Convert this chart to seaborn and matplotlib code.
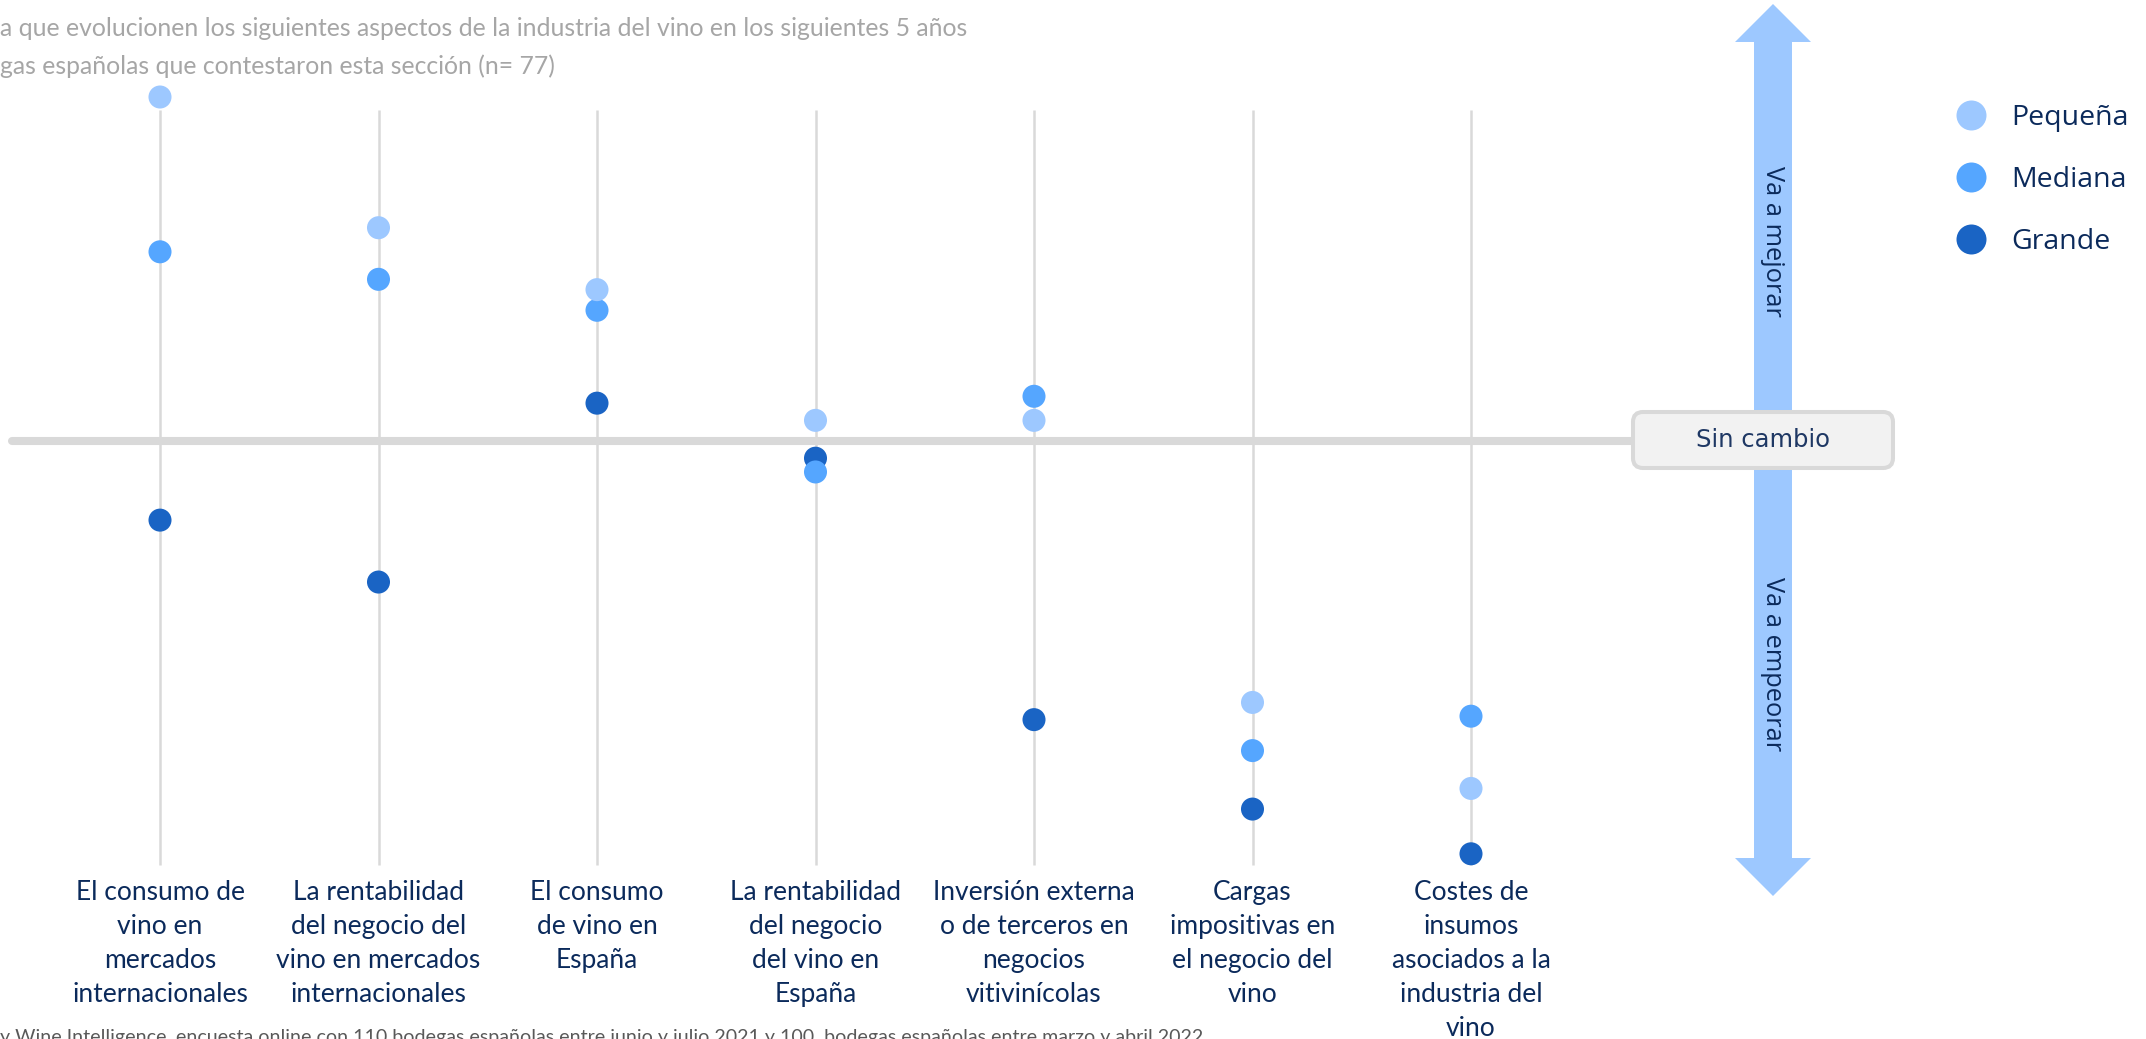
import numpy as np
import pandas as pd
import matplotlib
matplotlib.use("Agg")
import matplotlib.pyplot as plt
from matplotlib.lines import Line2D
from matplotlib.patches import FancyArrow, FancyBboxPatch
import seaborn as sns

sns.set_style("white")

# ------------------------------------------------------------
# datos (0 = "Sin cambio", + mejora, - empeora)
# ------------------------------------------------------------
categorias = [
    "El consumo de\nvino en\nmercados\ninternacionales",
    "La rentabilidad\ndel negocio del\nvino en mercados\ninternacionales",
    "El consumo\nde vino en\nEspaña",
    "La rentabilidad\ndel negocio\ndel vino en\nEspaña",
    "Inversión externa\no de terceros en\nnegocios\nvitivinícolas",
    "Cargas\nimpositivas en\nel negocio del\nvino",
    "Costes de\ninsumos\nasociados a la\nindustria del\nvino",
]
pequena = [1.00, 0.62, 0.44, 0.06, 0.06, -0.76, -1.01]
mediana = [0.55, 0.47, 0.38, -0.09, 0.13, -0.90, -0.80]
grande = [-0.23, -0.41, 0.11, -0.05, -0.81, -1.07, -1.20]

tamanos = ["Pequeña", "Mediana", "Grande"]
colores = {"Pequeña": "#9DC8FF", "Mediana": "#55A6FF", "Grande": "#1A64C4"}

titulo_1 = "a que evolucionen los siguientes aspectos de la industria del vino en los siguientes 5 años"
titulo_2 = "gas españolas que contestaron esta sección (n= 77)"
fuente = ("y Wine Intelligence, encuesta online con 110 bodegas españolas entre junio y julio 2021 "
          "y 100  bodegas españolas entre marzo y abril 2022")

# orden de dibujo: Grande debajo, Pequeña encima
df = pd.concat([
    pd.DataFrame({"aspecto": categorias, "valor": grande, "tamano": "Grande"}),
    pd.DataFrame({"aspecto": categorias, "valor": mediana, "tamano": "Mediana"}),
    pd.DataFrame({"aspecto": categorias, "valor": pequena, "tamano": "Pequeña"}),
], ignore_index=True)

W, H = 2146, 1039
NAVY = "#0B2A5B"
LINEA = "#D9D9D9"

plt.rcParams["font.family"] = ["Lato", "DejaVu Sans"]

fig = plt.figure(figsize=(W / 100, H / 100), dpi=100)
ax = fig.add_axes([0, 1 - 870 / H, 1, 870 / H])

# líneas verticales por aspecto y línea "sin cambio"
ax.vlines(range(len(categorias)), -1.233, 0.962, color=LINEA, lw=1.8, zorder=1)
ax.axhline(0, xmin=12 / W, xmax=1633 / W, color=LINEA, lw=5.8, zorder=1)

sns.scatterplot(data=df, x="aspecto", y="valor", hue="tamano", palette=colores,
                s=275, linewidth=0, alpha=1, legend=False, ax=ax, zorder=3)

ax.set_xlim(-160 / 218.5, (W - 160) / 218.5)
ax.set_ylim(-1.2471, 1.282)
ax.set_xlabel("")
ax.set_ylabel("")
ax.set_yticks([])
ax.set_xticks(range(len(categorias)))
ax.set_xticklabels(categorias, fontsize=19, color=NAVY, linespacing=1.45)
ax.tick_params(axis="x", length=0, pad=7)
sns.despine(ax=ax, left=True, bottom=True)

# capa de anotaciones en píxeles
ov = fig.add_axes([0, 0, 1, 1], zorder=5)
ov.set_xlim(0, W)
ov.set_ylim(H, 0)
ov.axis("off")
ov.patch.set_alpha(0)

flecha = "#9DC8FF"
ov.add_patch(FancyArrow(1773, 441, 0, 4 - 441, width=38, head_width=76, head_length=38,
                        length_includes_head=True, color=flecha, lw=0))
ov.add_patch(FancyArrow(1773, 441, 0, 896 - 441, width=38, head_width=76, head_length=38,
                        length_includes_head=True, color=flecha, lw=0))
ov.add_patch(FancyBboxPatch((1633, 412), 260, 56, boxstyle="round,pad=0,rounding_size=10",
                            fc="#F2F2F2", ec=LINEA, lw=2.9))
ov.text(1763, 440, "Sin cambio", ha="center", va="center", fontsize=17.5,
        color="#1F3864", family="DejaVu Sans")
ov.text(1773, 241, "Va a mejorar", ha="center", va="center", rotation=-90,
        fontsize=18.3, color=NAVY, family="Open Sans")
ov.text(1773, 664, "Va a empeorar", ha="center", va="center", rotation=-90,
        fontsize=18.3, color=NAVY, family="Open Sans")

ov.text(0, 29, titulo_1, ha="left", va="center", fontsize=17.8, color="#A6A6A6")
ov.text(0, 66, titulo_2, ha="left", va="center", fontsize=17.8, color="#A6A6A6")
ov.text(0, 1029, fuente, ha="left", va="top", fontsize=14.1, color="#595959")

handles = [Line2D([0], [0], marker="o", ls="", ms=21.6, mfc=colores[t], mec="none")
           for t in tamanos]
fig.legend(handles, tamanos, loc="center left", bbox_to_anchor=(1957 / W, 1 - 180 / H),
           frameon=False, borderpad=0, borderaxespad=0, handlelength=1.0, handletextpad=0.9,
           labelspacing=1.2, prop={"family": "Open Sans", "size": 20.5}, labelcolor=NAVY)

plt.savefig("out.png", dpi=100)
plt.close()
